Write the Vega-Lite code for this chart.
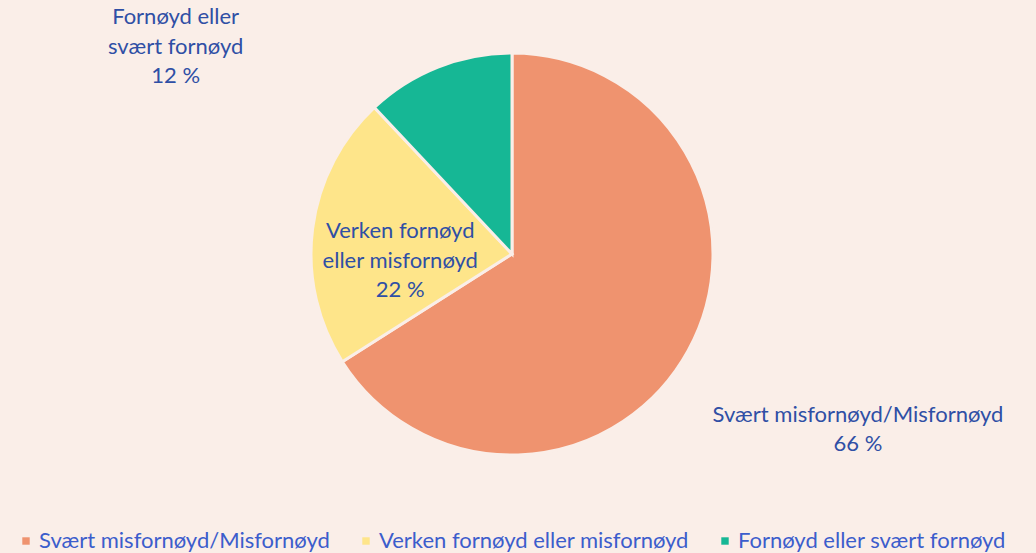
{
  "$schema": "https://vega.github.io/schema/vega-lite/v6.json",
  "width": 1024,
  "height": 508,
  "autosize": {"type": "none"},
  "padding": {"left": 0, "top": 0, "right": 12, "bottom": 45},
  "background": "#FAEEE8",
  "config": {"view": {"stroke": null}, "font": "Lato"},
  "data": {
    "values": [
      {"category": "Svært misfornøyd/Misfornøyd", "value": 66, "order": 1, "label": "Svært misfornøyd/Misfornøyd\n66 %"},
      {"category": "Verken fornøyd eller misfornøyd", "value": 22, "order": 2, "label": "Verken fornøyd\neller misfornøyd\n22 %"},
      {"category": "Fornøyd eller svært fornøyd", "value": 12, "order": 3, "label": "Fornøyd eller\nsvært fornøyd\n12 %"}
    ]
  },
  "encoding": {
    "theta": {"field": "value", "type": "quantitative", "stack": true},
    "order": {"field": "order", "type": "quantitative"}
  },
  "layer": [
    {
      "mark": {"type": "arc", "outerRadius": 201, "stroke": "#FAEEE8", "strokeWidth": 3},
      "encoding": {
        "color": {
          "field": "category",
          "type": "nominal",
          "scale": {
            "domain": ["Svært misfornøyd/Misfornøyd", "Verken fornøyd eller misfornøyd", "Fornøyd eller svært fornøyd"],
            "range": ["#EF936F", "#FEE58A", "#16B795"]
          },
          "legend": {
            "title": null,
            "orient": "none",
            "direction": "horizontal",
            "legendX": 15,
            "legendY": 530,
            "symbolType": "square",
            "symbolSize": 55,
            "symbolStrokeWidth": 0,
            "labelFontSize": 22,
            "labelFont": "Lato",
            "labelColor": "#3C5DCC",
            "labelOffset": 2,
            "columnPadding": 25,
            "labelLimit": 500
          }
        }
      }
    },
    {
      "mark": {"type": "text", "radius": 388, "thetaOffset": -0.033, "dy": -14.75, "fontSize": 22, "color": "#2F4FA5", "lineBreak": "\n", "lineHeight": 29.5, "baseline": "middle", "align": "center"},
      "encoding": {
        "text": {"condition": {"test": "datum.order === 1", "field": "label"}, "value": ""}
      }
    },
    {
      "mark": {"type": "text", "radius": 112, "thetaOffset": -0.188, "dy": -29.5, "fontSize": 22, "color": "#2F4FA5", "lineBreak": "\n", "lineHeight": 29.5, "baseline": "middle", "align": "center"},
      "encoding": {
        "text": {"condition": {"test": "datum.order === 2", "field": "label"}, "value": ""}
      }
    },
    {
      "mark": {"type": "text", "radius": 395, "thetaOffset": -0.642, "dy": -29.5, "fontSize": 22, "color": "#2F4FA5", "lineBreak": "\n", "lineHeight": 29.5, "baseline": "middle", "align": "center"},
      "encoding": {
        "text": {"condition": {"test": "datum.order === 3", "field": "label"}, "value": ""}
      }
    }
  ]
}
